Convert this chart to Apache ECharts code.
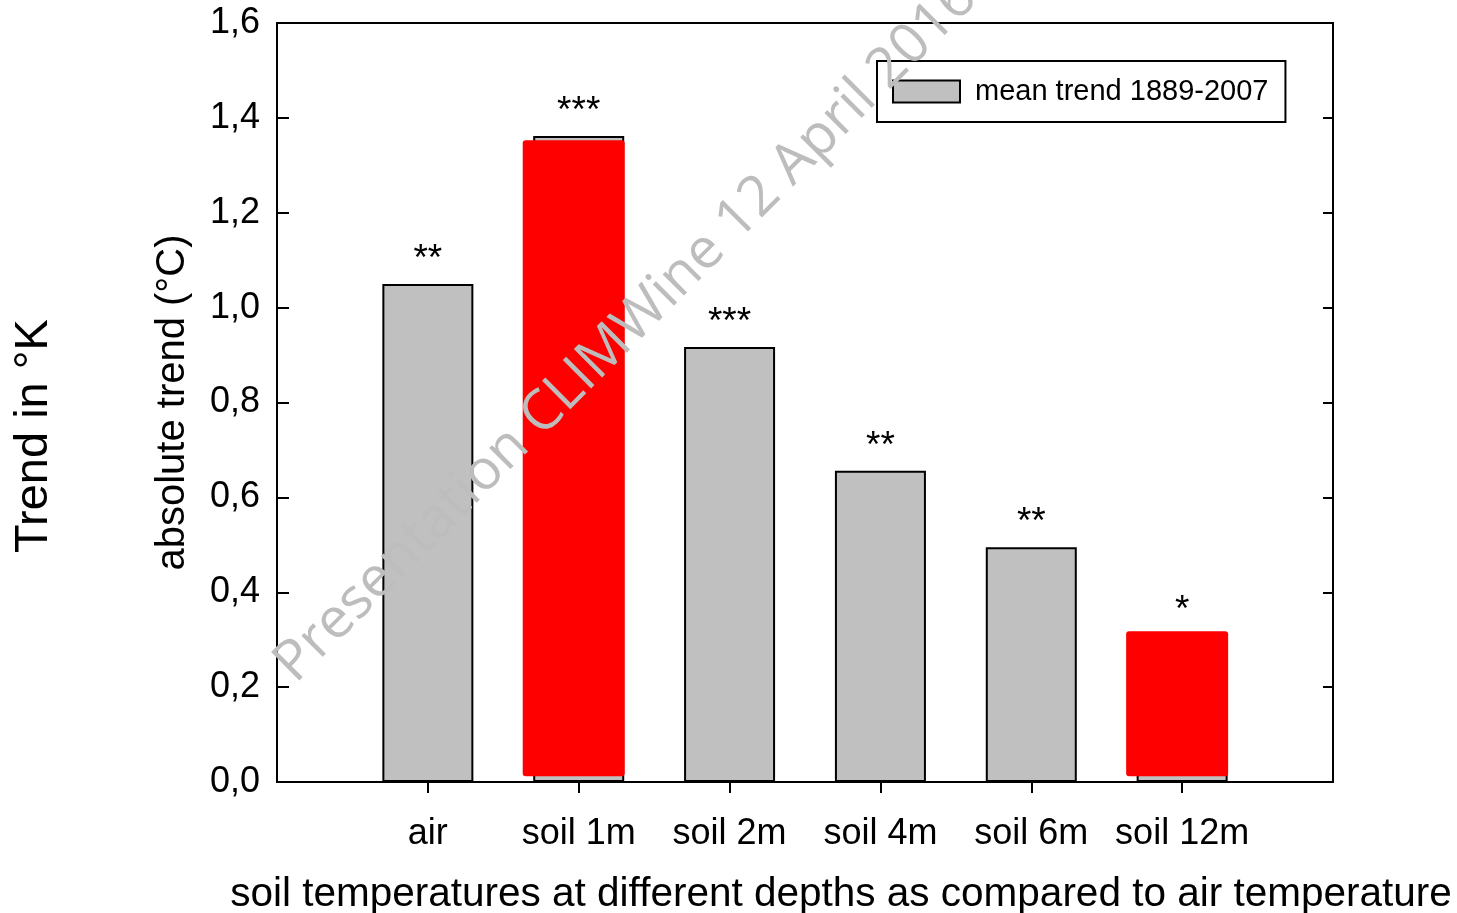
<!DOCTYPE html>
<html>
<head>
<meta charset="utf-8">
<script src="https://cdn.jsdelivr.net/npm/echarts@6/dist/echarts.min.js"></script>
<style>
html,body{margin:0;padding:0;background:#fff;}
#chart{width:1457px;height:913px;}
</style>
</head>
<body>
<div id="chart"></div>
<script>
// ---- data ----
var categories = ['', 'air', 'soil 1m', 'soil 2m', 'soil 4m', 'soil 6m', 'soil 12m', ''];
var positions = [1, 2, 3, 4, 5, 6];
var meanTrend = [1.05, 1.362, 0.917, 0.656, 0.495, 0.31];
var significance = ['**', '***', '***', '**', '**', '*'];
var highlightPos = [2, 6];
var highlightLow = [0.012, 0.012];
var highlightHigh = [1.353, 0.318];
var yTicks = [0, 0.2, 0.4, 0.6, 0.8, 1.0, 1.2, 1.4, 1.6];
var seriesName = 'mean trend 1889-2007';
var xTitle = 'soil temperatures at different depths as compared to air temperature';
var yTitle = 'absolute trend (°C)';
var outerTitle = 'Trend in °K';
var watermark = 'Presentation CLIMWine 12 April 2016';

var FONT = '"Liberation Sans", Arial, sans-serif';

var barData = positions.map(function (p, i) {
  return { value: [p, meanTrend[i]], label: { formatter: significance[i] } };
});
var hlData = highlightPos.map(function (p, i) { return [p, highlightLow[i], highlightHigh[i]]; });

var chart = echarts.init(document.getElementById('chart'), null, { renderer: 'canvas' });
chart.setOption({
  animation: false,
  backgroundColor: '#fff',
  grid: { left: 277, top: 23, right: 124, bottom: 131, containLabel: false, outerBoundsMode: 'none',
    show: true, borderColor: '#000', borderWidth: 2, backgroundColor: 'transparent' },
  legend: {
    data: [{ name: seriesName, icon: 'rect' }],
    left: 877, top: 61,
    width: 410,
    padding: [16, 17, 16, 15],
    borderColor: '#000', borderWidth: 2, borderRadius: 0,
    itemWidth: 67, itemHeight: 22,
    itemStyle: { color: '#c0c0c0', borderColor: '#000', borderWidth: 2, borderRadius: 0 },
    textStyle: { fontFamily: FONT, fontSize: 29, color: '#000', padding: [0, 0, 0, 10] },
    selectedMode: false
  },
  xAxis: {
    type: 'value', min: 0, max: 7, interval: 1,
    name: xTitle, nameLocation: 'middle', nameGap: 92,
    nameTextStyle: { fontFamily: FONT, fontSize: 40.5, color: '#000', padding: [0, 0, 0, 72] },
    axisLine: { show: true, lineStyle: { color: '#000', width: 2 } },
    axisTick: { show: true, inside: false, length: 11, lineStyle: { color: '#000', width: 2 }, customValues: positions },
    axisLabel: { fontFamily: FONT, fontSize: 36, color: '#000', margin: 34, customValues: positions,
      formatter: function (v) { return categories[Math.round(v)] || ''; } },
    splitLine: { show: false }
  },
  yAxis: [{
    type: 'value', min: 0, max: 1.6, interval: 0.2,
    name: yTitle, nameLocation: 'middle', nameGap: 84, nameRotate: 90,
    nameTextStyle: { fontFamily: FONT, fontSize: 40, color: '#000' },
    axisLine: { show: true, lineStyle: { color: '#000', width: 2 } },
    axisTick: { show: true, inside: true, length: 12, lineStyle: { color: '#000', width: 2 } },
    axisLabel: { fontFamily: FONT, fontSize: 36, color: '#000', margin: 17,
      formatter: function (v) { return v.toFixed(1).replace('.', ','); } },
    splitLine: { show: false }
  }, {
    type: 'value', min: 0, max: 1.6, interval: 0.2, position: 'right',
    axisLine: { show: true, lineStyle: { color: '#000', width: 2 } },
    axisTick: { show: true, inside: true, length: 10, lineStyle: { color: '#000', width: 2 } },
    axisLabel: { show: false },
    splitLine: { show: false }
  }],
  series: [{
    name: seriesName,
    type: 'bar',
    barWidth: 91,
    data: barData,
    itemStyle: { color: '#c0c0c0', borderColor: '#000', borderWidth: 2 },
    label: { show: true, position: 'top', distance: 6, fontFamily: FONT, fontSize: 37, color: '#000' },
    z: 2
  }, {
    name: 'highlight',
    type: 'custom',
    data: hlData,
    z: 3,
    renderItem: function (params, api) {
      var top = api.coord([api.value(0), api.value(2)]);
      var bot = api.coord([api.value(0), api.value(1)]);
      return {
        type: 'rect',
        shape: { x: top[0] - 56, y: top[1], width: 102, height: bot[1] - top[1], r: 3 },
        style: { fill: '#ff0000' }
      };
    }
  }],
  graphic: [{
    type: 'text',
    x: 34, y: 436,
    rotation: Math.PI / 2,
    style: { text: outerTitle, fontFamily: FONT, fontSize: 47, fill: '#000', align: 'center', verticalAlign: 'middle' },
    z: 10
  }, {
    type: 'text',
    x: 626, y: 331,
    rotation: Math.PI / 4,
    style: { text: watermark, fontFamily: '"Open Sans", sans-serif', fontSize: 56, fill: '#bdbdbd', align: 'center', verticalAlign: 'middle' },
    z: 100
  }]
});
</script>
</body>
</html>
